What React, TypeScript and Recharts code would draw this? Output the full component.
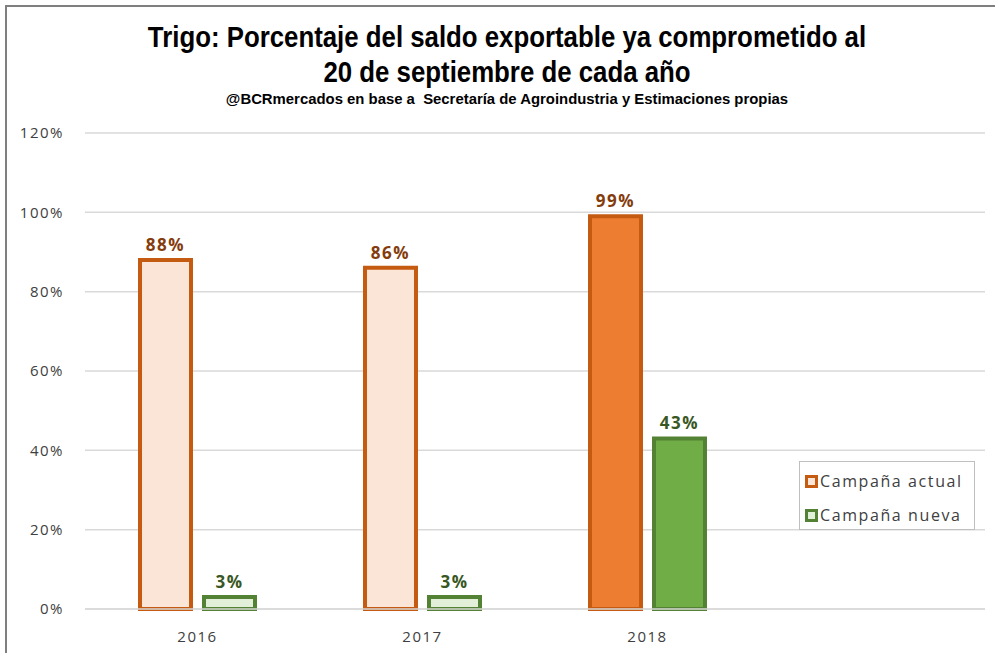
import React from 'react';
import { BarChart, Bar, XAxis, YAxis, CartesianGrid, Cell, LabelList, Legend } from 'recharts';

const categories = ['2016', '2017', '2018', ''];
const actualValues: (number | null)[] = [88, 86, 99, null];
const nuevaValues: (number | null)[] = [3, 3, 43, null];
const yTicks = [0, 20, 40, 60, 80, 100, 120];

const actualFills = ['#FBE5D6', '#FBE5D6', '#ED7D31', '#FBE5D6'];
const nuevaFills = ['#E2F0D9', '#E2F0D9', '#70AD47', '#E2F0D9'];

const data = categories.map((c, i) => ({ name: c, actual: actualValues[i], nueva: nuevaValues[i] }));

const fmt = (v: any) => (v === null || v === undefined ? '' : `${v}%`);

const LegendBox = () => (
  <div
    style={{
      border: '1px solid #BFBFBF',
      background: '#fff',
      width: 176,
      height: 69,
      boxSizing: 'border-box',
      fontFamily: 'Open Sans, sans-serif',
      fontSize: 16,
      letterSpacing: '1.6px',
      color: '#404040',
      paddingLeft: 5,
      paddingTop: 5,
    }}
  >
    {[
      { label: 'Campaña actual', stroke: '#C55A11', fill: '#FBE5D6' },
      { label: 'Campaña nueva', stroke: '#548235', fill: '#E2F0D9' },
    ].map((it, i) => (
      <div key={i} style={{ display: 'flex', alignItems: 'center', height: 28, marginBottom: i === 0 ? 6 : 0, whiteSpace: 'nowrap' }}>
        <span
          style={{
            display: 'inline-block',
            width: 7,
            height: 7,
            border: `3px solid ${it.stroke}`,
            background: it.fill,
            marginRight: 2,
            flexShrink: 0,
          }}
        />
        <span>{it.label}</span>
      </div>
    ))}
  </div>
);

const titleLine: React.CSSProperties = {
  display: 'block',
  transform: 'scaleX(0.86)',
  transformOrigin: '507px 0',
  whiteSpace: 'nowrap',
};

const tickStyle = { fill: '#404040', fontSize: 15, fontFamily: 'Open Sans, sans-serif', letterSpacing: '1.5px' };

export default function App() {
  return (
    <div style={{ position: 'absolute', left: 0, top: 0, width: 995, height: 653, background: '#fff', overflow: 'hidden' }}>
      <div style={{ position: 'absolute', left: 5, top: 5, width: 990, height: 648, borderLeft: '2px solid #7F7F7F', borderTop: '2px solid #7F7F7F' }} />
      <BarChart
        width={995}
        height={653}
        data={data}
        margin={{ top: 133, right: 10, bottom: 14, left: 0 }}
        barSize={51}
        barGap={13}
      >
        <CartesianGrid vertical={false} stroke="#D9D9D9" strokeWidth={1.5} />
        <XAxis
          dataKey="name"
          axisLine={{ stroke: '#D9D9D9', strokeWidth: 1.5 }}
          tickLine={false}
          tickSize={0}
          tickMargin={22}
          height={30}
          tick={tickStyle}
        />
        <YAxis
          domain={[0, 120]}
          ticks={yTicks}
          tickFormatter={(v) => `${v}%`}
          axisLine={false}
          tickLine={false}
          tickSize={0}
          tickMargin={21}
          width={85}
          tick={tickStyle}
        />
        <Legend
          layout="vertical"
          align="center"
          verticalAlign="middle"
          content={<LegendBox />}
          wrapperStyle={{ left: 799, top: 461, width: 176, height: 70 }}
        />
        <Bar dataKey="actual" name="Campaña actual" stroke="#C55A11" strokeWidth={4} isAnimationActive={false}>
          {data.map((_, i) => (
            <Cell key={i} fill={actualFills[i]} />
          ))}
          <LabelList
            dataKey="actual"
            position="top"
            offset={9}
            formatter={fmt}
            style={{ fill: '#843C0C', fontSize: 17, fontWeight: 700, fontFamily: 'Open Sans, sans-serif', letterSpacing: '1.5px' }}
          />
        </Bar>
        <Bar dataKey="nueva" name="Campaña nueva" stroke="#548235" strokeWidth={4} isAnimationActive={false}>
          {data.map((_, i) => (
            <Cell key={i} fill={nuevaFills[i]} />
          ))}
          <LabelList
            dataKey="nueva"
            position="top"
            offset={9}
            formatter={fmt}
            style={{ fill: '#385723', fontSize: 17, fontWeight: 700, fontFamily: 'Open Sans, sans-serif', letterSpacing: '1.5px' }}
          />
        </Bar>
      </BarChart>
      <div
        style={{
          position: 'absolute',
          left: 0,
          top: 19,
          width: 1014,
          textAlign: 'center',
          fontFamily: 'Liberation Sans, Arial, sans-serif',
          fontWeight: 700,
          fontSize: 30,
          lineHeight: '35px',
          color: '#000',
        }}
      >
        <div style={titleLine}>Trigo: Porcentaje del saldo exportable ya comprometido al</div>
        <div style={titleLine}>20 de septiembre de cada año</div>
        <div style={{ ...titleLine, transform: 'scaleX(0.96)', fontSize: 15.5, lineHeight: '20px' }}>
          @BCRmercados en base a&nbsp; Secretaría de Agroindustria y Estimaciones propias
        </div>
      </div>
    </div>
  );
}
